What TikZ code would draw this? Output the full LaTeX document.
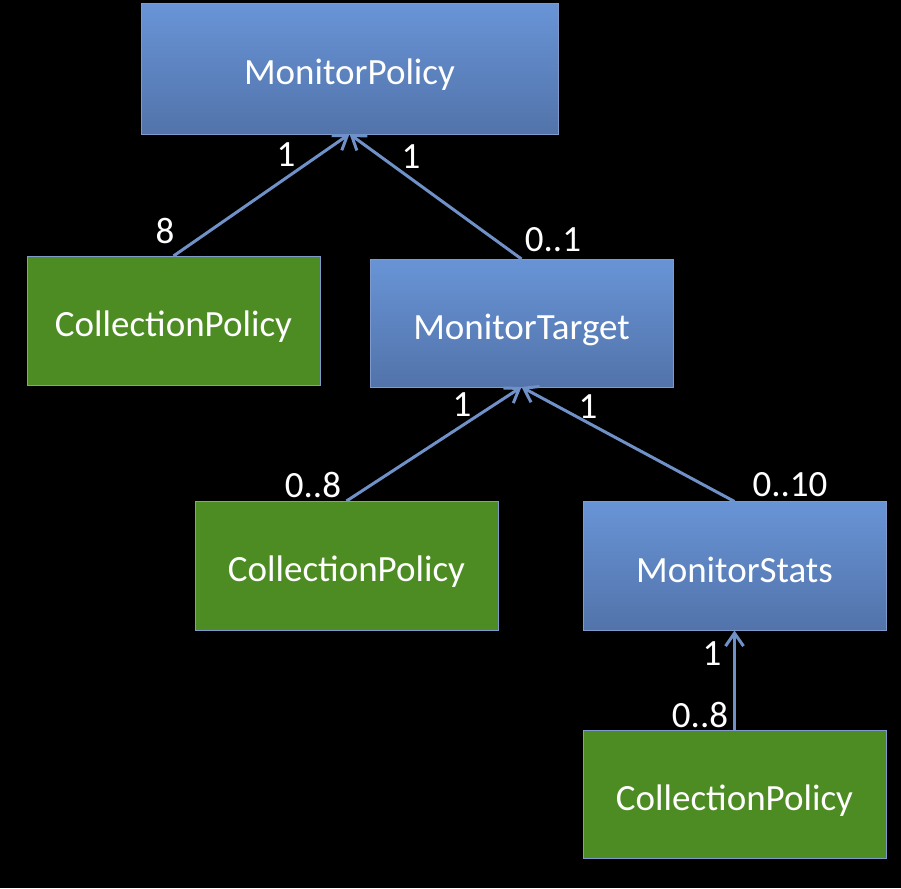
\documentclass[tikz,border=0pt]{standalone}
\usepackage{fontspec}
\setmainfont{Carlito}
\usetikzlibrary{arrows.meta}
\definecolor{bluetop}{HTML}{6894D6}
\definecolor{bluebot}{HTML}{5273AA}
\definecolor{boxgreen}{HTML}{4D8B23}
\definecolor{edgeblue}{HTML}{7E9BCB}
\definecolor{linkblue}{HTML}{7090C8}
\tikzset{
  box/.style={draw=edgeblue, line width=1pt, inner sep=0pt, outer sep=0pt,
    text=white, font=\fontsize{37}{44}\selectfont, text height=32pt, text depth=0pt},
  bluebox/.style={box, top color=bluetop, bottom color=bluebot},
  greenbox/.style={box, fill=boxgreen},
  mult/.style={text=white, font=\fontsize{37}{44}\selectfont, inner sep=0pt},
  link/.style={draw=linkblue, line width=3pt, -{Straight Barb[length=13pt,width=18pt]}},
}
\begin{document}
\begin{tikzpicture}[x=1pt,y=-1pt]
\fill[black] (0,0) rectangle (901,888);
\useasboundingbox (0,0) rectangle (901,888);
\node[bluebox, minimum width=417pt, minimum height=130pt] (mp) at (349.5,69) {MonitorPolicy};
\node[greenbox, minimum width=293pt, minimum height=129pt] (cp1) at (173.5,320.5) {CollectionPolicy};
\node[bluebox, minimum width=303pt, minimum height=128pt] (mt) at (521.5,323) {MonitorTarget};
\node[greenbox, minimum width=303pt, minimum height=129pt] (cp2) at (346.5,565.5) {CollectionPolicy};
\node[bluebox, minimum width=303pt, minimum height=129pt] (ms) at (734.5,566) {MonitorStats};
\node[greenbox, minimum width=303pt, minimum height=128pt] (cp3) at (734.5,794) {CollectionPolicy};
\draw[link] (cp1.north) -- (mp.south);
\draw[link] (mt.north) -- (mp.south);
\draw[link] (cp2.north) -- (mt.south);
\draw[link] (ms.north) -- (mt.south);
\draw[link] (cp3.north) -- (ms.south);
\node[mult] (l1) at (286,155) {1};
\node[mult] (l2) at (411,157) {1};
\node[mult] (l3) at (165,231) {8};
\node[mult] (l4) at (553,240) {0..1};
\node[mult] (l5) at (462,405) {1};
\node[mult] (l6) at (588,407) {1};
\node[mult] (l7) at (313,485) {0..8};
\node[mult] (l8) at (790,485) {0..10};
\node[mult] (l9) at (712,654) {1};
\node[mult] (l10) at (700,715) {0..8};
\end{tikzpicture}
\end{document}
